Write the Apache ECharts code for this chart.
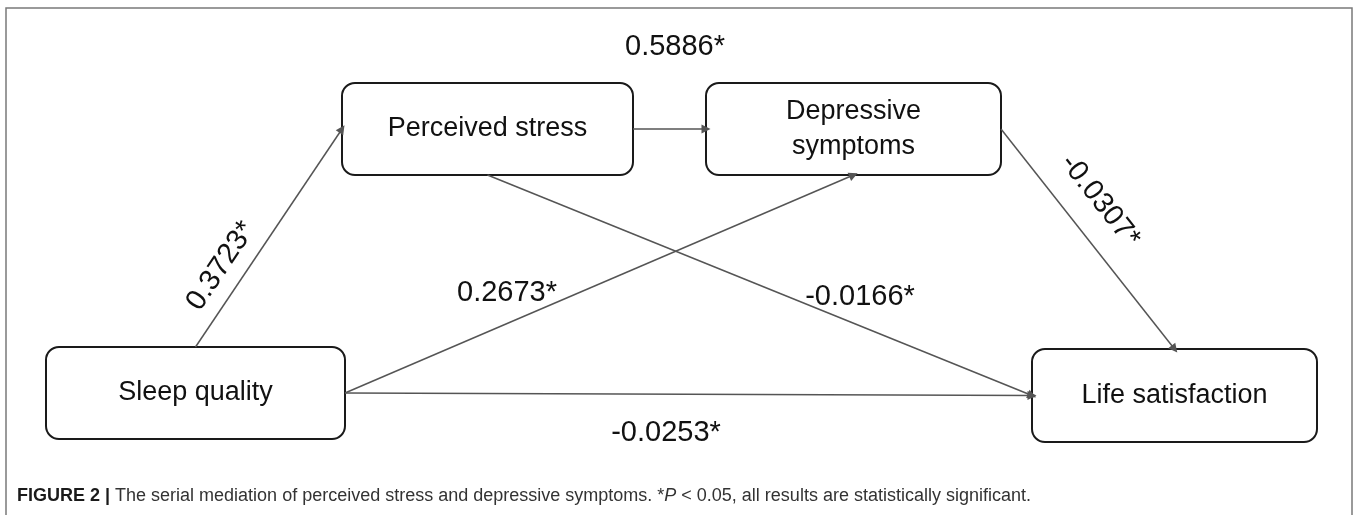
<!DOCTYPE html>
<html>
<head>
<meta charset="utf-8">
<script src="https://cdn.jsdelivr.net/npm/echarts@6/dist/echarts.min.js"></script>
<style>
html,body{margin:0;padding:0;background:#fff;}
#chart{width:1358px;height:515px;}
</style>
</head>
<body>
<div id="chart"></div>
<script>
// ---- data ----
const nodeNames = ['Sleep quality', 'Perceived stress', 'Depressive symptoms', 'Life satisfaction'];
const nodeLabels = ['Sleep quality', 'Perceived stress', 'Depressive\nsymptoms', 'Life satisfaction'];
const edgeFrom = ['Sleep quality', 'Perceived stress', 'Sleep quality', 'Perceived stress', 'Depressive symptoms', 'Sleep quality'];
const edgeTo = ['Perceived stress', 'Depressive symptoms', 'Depressive symptoms', 'Life satisfaction', 'Life satisfaction', 'Life satisfaction'];
const coefficients = [0.3723, 0.5886, 0.2673, -0.0166, -0.0307, -0.0253];
const significant = [true, true, true, true, true, true];
const captionBold = 'FIGURE 2 |';
const captionText = ' The serial mediation of perceived stress and depressive symptoms. *';
const captionItalic = 'P';
const captionRest = ' < 0.05, all results are statistically significant.';

// ---- layout (positions / sizes, kept apart from data) ----
const nodeBox = {
  'Sleep quality': [195.5, 393, 299, 92],
  'Perceived stress': [487.5, 129, 291, 92],
  'Depressive symptoms': [853.5, 129, 295, 92],
  'Life satisfaction': [1174.5, 395.5, 285, 93]
};
const edgePorts = [['top', 'left'], ['right', 'left'], ['right', 'bottom'], ['bottom', 'left'], ['right', 'top'], ['right', 'left']];
const labelPos = [[221, 266], [675, 47], [507, 293], [860, 297], [1100, 201], [666, 433]];
const labelAlong = [true, false, false, false, true, false];

const W = 1358, H = 515;
const FONT = '"Liberation Sans", Arial, Helvetica, sans-serif';

function port(name, side) {
  const b = nodeBox[name];
  const cx = b[0], cy = b[1], w = b[2], h = b[3];
  if (side === 'top') return [cx, cy - h / 2];
  if (side === 'bottom') return [cx, cy + h / 2];
  if (side === 'left') return [cx - w / 2, cy];
  return [cx + w / 2, cy];
}

const edgeCoords = edgeFrom.map((f, i) => [port(f, edgePorts[i][0]), port(edgeTo[i], edgePorts[i][1])]);

const nodeData = nodeNames.map((n, i) => [nodeBox[n][0], nodeBox[n][1], i]);
const labelData = coefficients.map((c, i) => {
  const [a, b] = edgeCoords[i];
  const rot = labelAlong[i] ? Math.atan2(-(b[1] - a[1]), b[0] - a[0]) : 0;
  return [labelPos[i][0], labelPos[i][1], rot, i];
});

const chart = echarts.init(document.getElementById('chart'), null, {renderer: 'canvas'});
chart.setOption({
  animation: false,
  backgroundColor: '#ffffff',
  grid: {left: 0, right: 0, top: 0, bottom: 0},
  xAxis: {type: 'value', min: 0, max: W, show: false},
  yAxis: {type: 'value', min: 0, max: H, inverse: true, show: false},
  title: {
    left: 17, top: 487, padding: 0,
    text: '{b|' + captionBold + '}{n|' + captionText + '}{i|' + captionItalic + '}{n|' + captionRest + '}',
    textStyle: {
      fontWeight: 'normal',
      rich: {
        b: {fontFamily: FONT, fontSize: 18, fontWeight: 'bold', color: '#1a1a1a'},
        n: {fontFamily: FONT, fontSize: 18, fontWeight: 'normal', color: '#333'},
        i: {fontFamily: FONT, fontSize: 18, fontWeight: 'normal', fontStyle: 'italic', color: '#333'}
      }
    }
  },
  graphic: [{
    type: 'rect', silent: true, z: -1,
    shape: {x: 6, y: 8, width: 1346, height: 520},
    style: {fill: 'none', stroke: '#7a7a7a', lineWidth: 1.5}
  }],
  series: [
    {
      type: 'custom',
      coordinateSystem: 'cartesian2d',
      z: 2,
      data: nodeData,
      renderItem: function (params, api) {
        const i = api.value(2);
        const b = nodeBox[nodeNames[i]];
        const p1 = api.coord([b[0] - b[2] / 2, b[1] - b[3] / 2]);
        const p2 = api.coord([b[0] + b[2] / 2, b[1] + b[3] / 2]);
        return {
          type: 'group',
          children: [{
            type: 'rect',
            shape: {x: p1[0], y: p1[1], width: p2[0] - p1[0], height: p2[1] - p1[1], r: 13},
            style: {fill: '#fff', stroke: '#1a1a1a', lineWidth: 2}
          }, {
            type: 'text',
            x: (p1[0] + p2[0]) / 2, y: (p1[1] + p2[1]) / 2,
            style: {text: nodeLabels[i], font: '27px ' + FONT, fill: '#111', align: 'center', verticalAlign: 'middle', lineHeight: 35}
          }]
        };
      }
    },
    {
      type: 'lines',
      coordinateSystem: 'cartesian2d',
      z: 3,
      symbol: ['none', 'triangle'],
      symbolSize: 9,
      lineStyle: {color: '#555', width: 1.5, opacity: 1},
      data: edgeCoords.map(c => ({coords: c}))
    },
    {
      type: 'custom',
      coordinateSystem: 'cartesian2d',
      z: 4,
      data: labelData,
      renderItem: function (params, api) {
        const i = api.value(3);
        const p = api.coord([api.value(0), api.value(1)]);
        return {
          type: 'text',
          x: p[0], y: p[1], rotation: api.value(2),
          style: {
            text: coefficients[i].toFixed(4) + (significant[i] ? '*' : ''),
            font: '29px ' + FONT, fill: '#111', align: 'center', verticalAlign: 'middle'
          }
        };
      }
    }
  ]
});
</script>
</body>
</html>
